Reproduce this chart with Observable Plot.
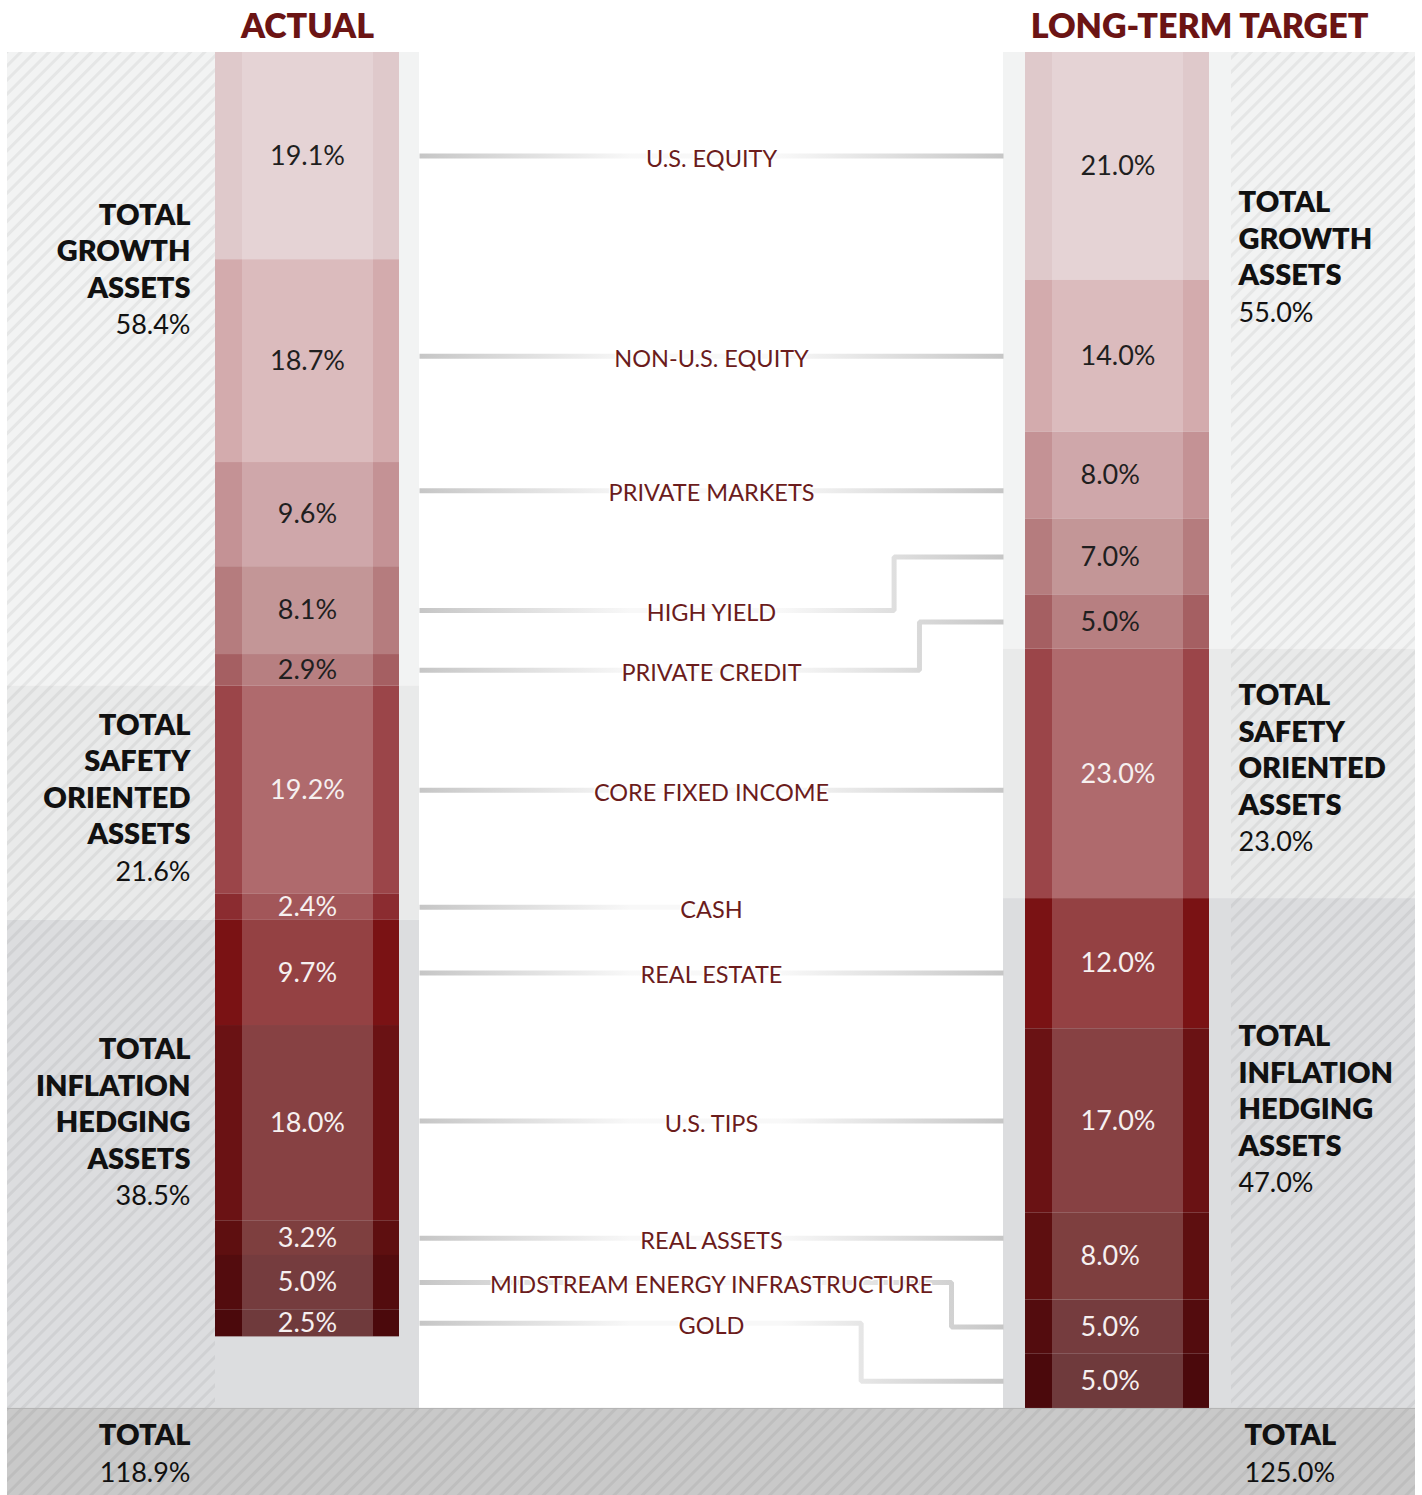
<!DOCTYPE html>
<html><head><meta charset="utf-8">
<script src="https://cdn.jsdelivr.net/npm/d3@7"></script>
<script src="https://cdn.jsdelivr.net/npm/@observablehq/plot@0.6"></script>
<style>
html,body{margin:0;padding:0;background:#fff;}
#chart svg{display:block;}
</style></head><body><div id="chart"></div>
<script>
// ---------------- DATA ----------------
const categories = ["U.S. EQUITY","NON-U.S. EQUITY","PRIVATE MARKETS","HIGH YIELD","PRIVATE CREDIT","CORE FIXED INCOME","CASH","REAL ESTATE","U.S. TIPS","REAL ASSETS","MIDSTREAM ENERGY INFRASTRUCTURE","GOLD"];
const categoryGroups = ["growth","growth","growth","growth","growth","safety","safety","inflation","inflation","inflation","inflation","inflation"];
const actualValues = [19.1,18.7,9.6,8.1,2.9,19.2,2.4,9.7,18.0,3.2,5.0,2.5];
const targetValues = [21.0,14.0,8.0,7.0,5.0,23.0,0,12.0,17.0,8.0,5.0,5.0];
const groupKeys = ["growth","safety","inflation"];
const groupTitles = ["TOTAL\nGROWTH\nASSETS","TOTAL\nSAFETY\nORIENTED\nASSETS","TOTAL\nINFLATION\nHEDGING\nASSETS"];
const actualGroupTotals = [58.4,21.6,38.5];
const targetGroupTotals = [55.0,23.0,47.0];
const actualGrandTotal = 118.9;
const targetGrandTotal = 125.0;
const sideHeadings = ["ACTUAL","LONG-TERM TARGET"];
const totalLabel = "TOTAL";

// ---------------- STYLE ----------------
const segmentColors = ["#dfc9cb","#d3abad","#c49295","#b57c7e","#a55f62","#9b4549","#8b2c30","#7a1214","#6a1214","#5e0f10","#530c0e","#4b090c"];
const groupBg = {growth:"#f2f3f3", safety:"#e9eaea", inflation:"#dcdddf"};
const totalBg = "#c9c9c9";
const valueTextFill = {growth:"#1f1f1f", safety:"#f6f0f0", inflation:"#f6f0f0"};
const headingFill = "#6b1414";
const connectorText = "#6b1c1c";
const FONT = "Lato, 'Open Sans', sans-serif";

// ---------------- LAYOUT ----------------
const W = 1422, H = 1495, TOP = 52;
const totalRowFrac = 0.0642;                                        // share of height reserved for totals row
const labelAnchorFrac = {growth: 0.34, safety: 0.47, inflation: 0.41}; // label block position within its band
const midL0 = 419, midR1 = 1003, centerX = (midL0 + midR1) / 2;
const stripInset = [27, 26];
const sides = [
  {key:"actual", values:actualValues, totals:actualGroupTotals, grand:actualGrandTotal, heading:sideHeadings[0],
   panel:[7,419], label:[7,215], bar:[215,399], labelX:190, valueX:307, headingX:307, totalX:190},
  {key:"target", values:targetValues, totals:targetGroupTotals, grand:targetGrandTotal, heading:sideHeadings[1],
   panel:[1003,1415], label:[1231,1415], bar:[1025,1209], labelX:1238, valueX:1080, headingX:1199, totalX:1244}
];

const fmt = v => v.toFixed(1) + "%";
function stackOf(values) {
  let c = 0;
  return values.map((v, i) => ({i, cat: categories[i], group: categoryGroups[i], v, y0: c, y1: (c += v)}));
}
sides.forEach(s => s.stack = stackOf(s.values));
const yMax = d3.max(sides, s => d3.sum(s.values));
const yEnd = yMax * (1 + totalRowFrac);

const bandRows = [], hatchRows = [], segRows = [], stripRows = [], valueRows = [], groupLabelRows = [];
sides.forEach(s => {
  groupKeys.forEach((g, gi) => {
    const segs = s.stack.filter(d => d.group === g);
    const y1 = segs[0].y0;
    const y2 = gi === groupKeys.length - 1 ? yMax : segs[segs.length - 1].y1;
    bandRows.push({x1: s.panel[0], x2: s.panel[1], y1, y2, fill: groupBg[g]});
    const n = groupTitles[gi].split("\n").length;
    groupLabelRows.push({side: s.key, x: s.labelX, y: y1 + labelAnchorFrac[g] * (y2 - y1),
      title: groupTitles[gi] + "\n\u00a0", pct: "\u00a0\n".repeat(n) + fmt(s.totals[gi])});
  });
  hatchRows.push({x1: s.label[0], x2: s.label[1], y1: 0, y2: yMax});
  s.stack.filter(d => d.v > 0).forEach(d => {
    segRows.push({x1: s.bar[0], x2: s.bar[1], y1: d.y0, y2: d.y1, fill: segmentColors[d.i]});
    stripRows.push({x1: s.bar[0] + stripInset[0], x2: s.bar[1] - stripInset[1], y1: d.y0, y2: d.y1});
    valueRows.push({side: s.key, x: s.valueX, y: (d.y0 + d.y1) / 2, text: fmt(d.v), fill: valueTextFill[d.group]});
  });
});

// connectors
const ctx = document.createElement("canvas").getContext("2d");
ctx.font = "24px Lato";
const connPts = [], connLabels = [];
const A = sides[0].stack, T = sides[1].stack;
categories.forEach((c, i) => {
  const a = A[i], t = T[i];
  const aMid = (a.y0 + a.y1) / 2;
  let pts, yLabel;
  if (t.v === 0) {
    pts = [[midL0, aMid], [centerX, aMid]]; yLabel = aMid;
  } else {
    const lo = Math.max(a.y0, t.y0), hi = Math.min(a.y1, t.y1);
    if (hi - lo >= 0.5 * a.v) {
      const y = (lo + hi) / 2; pts = [[midL0, y], [midR1, y]]; yLabel = y;
    } else {
      const w = ctx.measureText(c).width;
      const xs = Math.min(centerX + w / 2 + 116, midR1 - 52);
      const tMid = (t.y0 + t.y1) / 2;
      pts = [[midL0, aMid], [xs, aMid], [xs, tMid], [midR1, tMid]]; yLabel = aMid;
    }
  }
  pts.forEach(p => connPts.push({key: c, x: p[0], y: p[1]}));
  connLabels.push({x: centerX, y: yLabel, text: c});
});

const totalRows = sides.map(s => ({side: s.key, x: s.totalX, y: (yMax + yEnd) / 2,
  title: totalLabel + "\n\u00a0", pct: "\u00a0\n" + fmt(s.grand)}));
const headingRows = sides.map(s => ({x: s.headingX, y: 0, text: s.heading}));

const labelMarks = [];
[["actual","end"],["target","start"]].forEach(([k, anchor]) => {
  const rows = groupLabelRows.filter(d => d.side === k);
  const trows = totalRows.filter(d => d.side === k);
  labelMarks.push(
    Plot.text(rows, {x: "x", y: "y", text: "title", textAnchor: anchor, lineAnchor: "middle", fontSize: 29, lineHeight: 36.5/29, fontWeight: 800, fill: "#111", fontFamily: FONT}),
    Plot.text(rows, {x: "x", y: "y", text: "pct", textAnchor: anchor, lineAnchor: "middle", fontSize: 27, lineHeight: 36.5/27, fontWeight: 400, fill: "#111", fontFamily: FONT}),
    Plot.text(trows, {x: "x", y: "y", text: "title", textAnchor: anchor, lineAnchor: "middle", fontSize: 29, lineHeight: 37/29, fontWeight: 800, fill: "#111", fontFamily: FONT}),
    Plot.text(trows, {x: "x", y: "y", text: "pct", textAnchor: anchor, lineAnchor: "middle", fontSize: 27, lineHeight: 37/27, fontWeight: 400, fill: "#111", fontFamily: FONT})
  );
  const vrows = valueRows.filter(d => d.side === k);
  labelMarks.push(Plot.text(vrows, {x: "x", y: "y", text: "text", fill: "fill", textAnchor: k === "actual" ? "middle" : "start",
    fontSize: 27, fontFamily: FONT, fontWeight: 400}));
});

const chart = Plot.plot({
  width: W, height: H,
  marginTop: TOP, marginBottom: 0, marginLeft: 0, marginRight: 0,
  x: {domain: [0, W], axis: null},
  y: {domain: [0, yEnd], reverse: true, axis: null},
  color: {type: "identity"},
  style: {fontFamily: FONT, background: "#fff", overflow: "visible"},
  marks: [
    Plot.rect(bandRows, {x1: "x1", x2: "x2", y1: "y1", y2: "y2", fill: "fill"}),
    Plot.rect(hatchRows, {x1: "x1", x2: "x2", y1: "y1", y2: "y2", fill: "url(#hatch)"}),
    Plot.rect([{x1: sides[0].panel[0], x2: sides[1].panel[1], y1: yMax, y2: yEnd}], {x1: "x1", x2: "x2", y1: "y1", y2: "y2", fill: totalBg}),
    Plot.rect([{x1: sides[0].panel[0], x2: sides[1].panel[1], y1: yMax, y2: yEnd}], {x1: "x1", x2: "x2", y1: "y1", y2: "y2", fill: "url(#hatch)"}),
    Plot.ruleY([yMax], {x1: sides[0].panel[0], x2: sides[1].panel[1], stroke: "#b4b4b4", strokeWidth: 1}),
    Plot.rect(segRows, {x1: "x1", x2: "x2", y1: "y1", y2: "y2", fill: "fill"}),
    Plot.rect(stripRows, {x1: "x1", x2: "x2", y1: "y1", y2: "y2", fill: "#fff", fillOpacity: 0.2}),
    Plot.line(connPts, {x: "x", y: "y", z: "key", stroke: "url(#connGrad)", strokeWidth: 5, curve: "linear", strokeLinejoin: "miter", strokeLinecap: "butt"}),
    Plot.text(connLabels, {x: "x", y: "y", text: "text", dy: 3, fontSize: 23.5, fontWeight: 400, fill: connectorText, fontFamily: FONT, stroke: "#fff", strokeWidth: 3}),
    ...labelMarks,
    Plot.text(headingRows, {x: "x", y: "y", text: "text", dy: -25, fontSize: 34, fontWeight: 800, fill: headingFill, fontFamily: FONT})
  ]
});

// defs: hatch pattern and connector gradient
const xs = chart.scale("x");
const defs = d3.select(chart).insert("defs", ":first-child");
const pat = defs.append("pattern").attr("id", "hatch").attr("patternUnits", "userSpaceOnUse")
  .attr("width", 10).attr("height", 10).attr("patternTransform", "rotate(45)");
pat.append("rect").attr("width", 3).attr("height", 10).attr("fill", "rgba(0,0,0,0.055)");
const grad = defs.append("linearGradient").attr("id", "connGrad").attr("gradientUnits", "userSpaceOnUse")
  .attr("x1", xs.apply(midL0)).attr("x2", xs.apply(midR1)).attr("y1", 0).attr("y2", 0);
[[0, "#c6c6c6"], [0.36, "#f8f8f8"], [0.62, "#f8f8f8"], [1, "#c6c6c6"]].forEach(([o, c]) =>
  grad.append("stop").attr("offset", o).attr("stop-color", c));

document.getElementById("chart").appendChild(chart);
</script>
</body></html>
